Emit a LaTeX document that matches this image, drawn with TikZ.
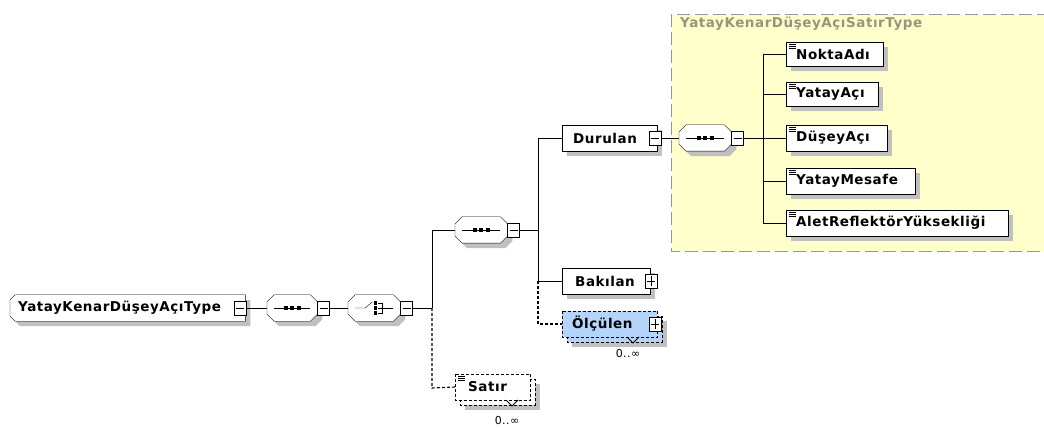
\documentclass[tikz,border=0pt]{standalone}
\usepackage{fontspec}
\setmainfont{DejaVu Sans}[LetterSpace=4]
\usetikzlibrary{shadows,calc}
\definecolor{yel}{RGB}{255,255,204}
\definecolor{ttl}{RGB}{150,150,125}
\definecolor{lblue}{RGB}{180,212,250}
\definecolor{shdc}{RGB}{192,192,192}
\definecolor{bord}{RGB}{150,150,150}
\pgfdeclarelayer{background}
\pgfsetlayers{background,main}
% octagon outline around a named node: #1 node, #2 offset, #3 chamfer, #4 style
\newcommand\octshape[4]{%
  \path[#4] ($(#1.north west)+(#3+#2,#2)$) -- ($(#1.north east)+(-#3+#2,#2)$) -- ($(#1.north east)+(#2,#3+#2)$)
   -- ($(#1.south east)+(#2,-#3+#2)$) -- ($(#1.south east)+(-#3+#2,#2)$) -- ($(#1.south west)+(#3+#2,#2)$)
   -- ($(#1.south west)+(#2,-#3+#2)$) -- ($(#1.north west)+(#2,#3+#2)$) -- cycle;}
% left-chamfered outline (root type)
\newcommand\lchshape[4]{%
  \path[#4] ($(#1.north west)+(#3+#2,#2)$) -- ($(#1.north east)+(#2,#2)$)
   -- ($(#1.south east)+(#2,#2)$) -- ($(#1.south west)+(#3+#2,#2)$)
   -- ($(#1.south west)+(#2,-#3+#2)$) -- ($(#1.north west)+(#2,#3+#2)$) -- cycle;}
\begin{document}
\begin{tikzpicture}[x=1pt,y=-1pt,line width=1.1pt,
  shd/.style={drop shadow={shadow xshift=5pt,shadow yshift=-5pt,fill=shdc,opacity=1}},
  elembase/.style={rectangle,anchor=west,align=left,inner xsep=0pt,inner ysep=0pt,
     minimum height=26pt,font=\fontsize{13.5}{15}\selectfont\bfseries},
  elem/.style={elembase,draw,fill=white,shd},
  dashedbox/.style={dash pattern=on 3pt off 2pt},
  oct/.style={rectangle,minimum width=52pt,minimum height=26pt,inner sep=0pt,anchor=west},
  minusbox/.style={rectangle,draw,fill=white,minimum width=12pt,minimum height=14pt,inner sep=0pt,
     path picture={\draw[line width=0.9pt] ([xshift=2pt]path picture bounding box.west) -- ([xshift=-2pt]path picture bounding box.east);}},
  plusbox/.style={minusbox,
     path picture={\draw[line width=0.9pt] ([xshift=2pt]path picture bounding box.west) -- ([xshift=-2pt]path picture bounding box.east)
        ([yshift=-2pt]path picture bounding box.north) -- ([yshift=2pt]path picture bounding box.south);}},
  dconn/.style={draw,line width=1.1pt,dash pattern=on 3pt off 2pt},
  mult/.style={font=\fontsize{11}{12}\selectfont}
]
\useasboundingbox (0,0) rectangle (1044,430);

% yellow group
\begin{pgfonlayer}{background}
\fill[yel] (671,15) rectangle (1050,252);
\draw[bord,line width=1pt,dash pattern=on 13pt off 5pt] (1050,15) -- (671,15) -- (671,252) -- (1050,252);
\end{pgfonlayer}
\node[anchor=west,text=ttl,font=\fontsize{13.5}{15}\selectfont\bfseries,inner sep=0pt] (gtitle) at (680,24) {YatayKenarDüşeyAçıSatırType};

% root
\node[elembase,text width=235pt] (root) at (10,308) {\hspace*{8pt}YatayKenarDüşeyAçıType};
\begin{pgfonlayer}{background}
\lchshape{root}{5}{5}{fill=shdc}
\lchshape{root}{0}{5}{draw,fill=white}
\end{pgfonlayer}
\node[minusbox] (rootm) at (240,308) {};

% sequence 1
\node[oct,minimum width=50pt] (s1) at (267,308) {};
\begin{pgfonlayer}{background}
\octshape{s1}{5}{7}{fill=shdc}
\octshape{s1}{0}{7}{draw,fill=white}
\end{pgfonlayer}
\draw ([xshift=-18pt]s1.center) -- ([xshift=18pt]s1.center);
\foreach \d in {-6.5,0,6.5} \fill ([xshift=\d pt]s1.center) ++(-2,-1.75) rectangle ++(4,3.5);
\node[minusbox,anchor=west] (s1m) at (s1.east) {};

% choice
\node[oct] (ch) at (348,308) {};
\begin{pgfonlayer}{background}
\octshape{ch}{5}{7}{fill=shdc}
\octshape{ch}{0}{7}{draw,fill=white}
\end{pgfonlayer}
\draw ([xshift=-19pt]ch.center) -- ([xshift=-9pt]ch.center) -- ([xshift=-2pt,yshift=6pt]ch.center);
\foreach \d in {-5,0,5} \fill ([xshift=1pt,yshift=\d pt]ch.center) ++(-1.6,-1.6) rectangle ++(3.2,3.2);
\draw ([xshift=4pt,yshift=5pt]ch.center) -- ([xshift=8pt,yshift=5pt]ch.center) -- ([xshift=8pt,yshift=-5pt]ch.center) -- ([xshift=4pt,yshift=-5pt]ch.center);
\draw ([xshift=4pt]ch.center) -- ([xshift=19pt]ch.center);
\node[minusbox,anchor=west] (chm) at (ch.east) {};

% bus 1
\coordinate (b1t) at (432,230);
\coordinate (b1m) at (432,308);
\coordinate (b1b) at (432,388);

% sequence 2
\node[oct] (s2) at (455,230) {};
\begin{pgfonlayer}{background}
\octshape{s2}{5}{7}{fill=shdc}
\octshape{s2}{0}{7}{draw,fill=white}
\end{pgfonlayer}
\draw ([xshift=-19pt]s2.center) -- ([xshift=19pt]s2.center);
\foreach \d in {-6.5,0,6.5} \fill ([xshift=\d pt]s2.center) ++(-2,-1.75) rectangle ++(4,3.5);
\node[minusbox,anchor=west] (s2m) at (s2.east) {};

% bus 2
\coordinate (b2t) at (538,138);
\coordinate (b2c) at (538,230);
\coordinate (b2m) at (538,281);
\coordinate (b2b) at (538,324);

% Durulan
\node[elem,text width=95pt] (dur) at (562,138) {\hspace*{11pt}Durulan};
\node[minusbox] (durm) at (655,138) {};

% sequence 3
\node[oct] (s3) at (679,138) {};
\begin{pgfonlayer}{background}
\octshape{s3}{5}{7}{fill=shdc}
\octshape{s3}{0}{7}{draw,fill=white}
\end{pgfonlayer}
\draw ([xshift=-19pt]s3.center) -- ([xshift=19pt]s3.center);
\foreach \d in {-6.5,0,6.5} \fill ([xshift=\d pt]s3.center) ++(-2,-1.75) rectangle ++(4,3.5);
\node[minusbox,anchor=west] (s3m) at (s3.east) {};

% bus 3
\coordinate (b3t) at (763,54);
\coordinate (b3c) at (763,138);
\coordinate (b3b) at (763,223);

% children
\node[elem,minimum height=24pt,text width=97pt] (c1) at (786,54) {\hspace*{10pt}NoktaAdı};
\node[elem,minimum height=24pt,text width=92pt] (c2) at (786,94) {\hspace*{10pt}YatayAçı};
\node[elem,minimum height=26pt,text width=101pt] (c3) at (786,138) {\hspace*{10pt}DüşeyAçı};
\node[elem,minimum height=26pt,text width=129pt] (c4) at (786,181) {\hspace*{10pt}YatayMesafe};
\node[elem,minimum height=26pt,text width=222pt] (c5) at (786,223) {\hspace*{10pt}AletReflektörYüksekliği};
\foreach \c in {c1,c2,c3,c4,c5} {
  \draw[line width=0.7pt] ($(\c.north west)+(3,2.5)$) -- ++(7,0) ($(\c.north west)+(3,4.5)$) -- ++(7,0) ($(\c.north west)+(3,6.5)$) -- ++(7,0);
}

% Bakilan
\node[elem,text width=88pt] (bak) at (562,281) {\hspace*{13pt}Bakılan};
\node[plusbox] (bakp) at (651,281) {};

% Olculen (multiple, optional)
\draw[dashedbox,fill=lblue,shd] (567,316) rectangle (662,342);
\node[elembase,fill=lblue,text width=95pt] (oel) at (562,324) {\hspace*{10pt}Ölçülen};
\draw[dashedbox] (oel.north west) rectangle (oel.south east);
\node[plusbox] (oelp) at (655,324) {};
\draw[line width=0.9pt] (627,337) -- (633,343) -- (639,337);
\node[mult] (oelmul) at (628,353) {0..∞};

% Satir (multiple, optional)
\draw[dashedbox,fill=white,shd] (460,379) rectangle (535,405);
\node[elembase,fill=white,text width=75pt] (sat) at (455,387) {\hspace*{13pt}Satır};
\draw[dashedbox] (sat.north west) rectangle (sat.south east);
\draw[line width=0.7pt] ($(sat.north west)+(3,2.5)$) -- ++(7,0) ($(sat.north west)+(3,4.5)$) -- ++(7,0) ($(sat.north west)+(3,6.5)$) -- ++(7,0);
\draw[line width=0.9pt] (506,400) -- (512,406) -- (518,400);
\node[mult] (satmul) at (507,420) {0..∞};

% connectors
\draw (rootm.east) -- (s1.west);
\draw (s1m.east) -- (ch.west);
\draw (chm.east) -- (b1m);
\draw (b1t) -- (b1m);
\draw (b1t) -- (s2.west);
\draw[dconn] (b1m) -- (b1b) -- (sat.west);
\draw (s2m.east) -- (b2c);
\draw (b2t) -- (b2m);
\draw (b2t) -- (dur.west);
\draw (b2m) -- (bak.west);
\draw[dconn] (b2m) -- (b2b) -- (oel.west);
\draw (durm.east) -- (s3.west);
\draw (s3m.east) -- (b3c);
\draw (b3t) -- (b3b);
\draw (b3t) -- (c1.west);
\draw ($(b3t)!(c2.west)!(b3b)$) -- (c2.west);
\draw (b3c) -- (c3.west);
\draw ($(b3t)!(c4.west)!(b3b)$) -- (c4.west);
\draw (b3b) -- (c5.west);
\end{tikzpicture}
\end{document}
